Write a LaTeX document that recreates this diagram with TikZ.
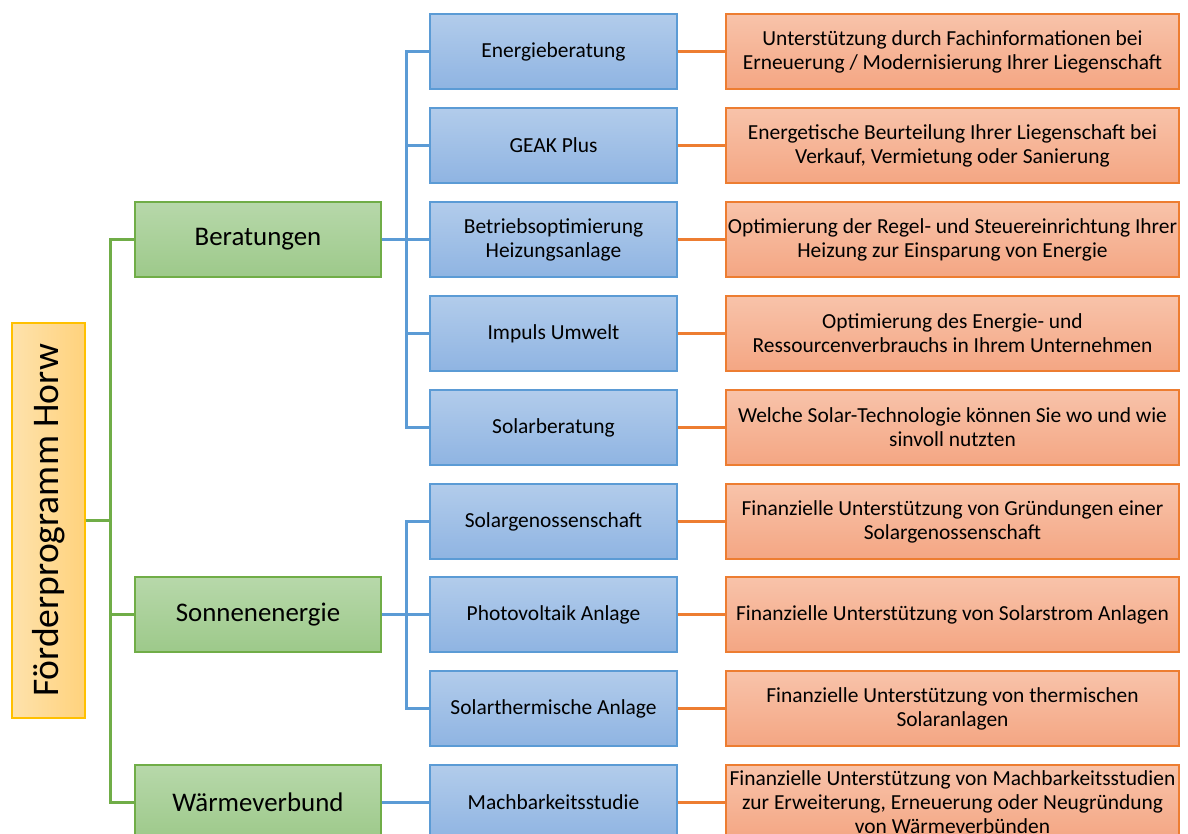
\documentclass[tikz,border=0pt]{standalone}
\usepackage{fontspec}
\setmainfont{Carlito}
\usetikzlibrary{positioning}

\definecolor{grline}{HTML}{70AD47}
\definecolor{grtop}{HTML}{B7D8AA}
\definecolor{grbot}{HTML}{9DC98A}
\definecolor{blline}{HTML}{5B9BD5}
\definecolor{bltop}{HTML}{B2CCEB}
\definecolor{blbot}{HTML}{8FB4E2}
\definecolor{orline}{HTML}{ED7D31}
\definecolor{ortop}{HTML}{F8C3AA}
\definecolor{orbot}{HTML}{F4A683}
\definecolor{yeline}{HTML}{FFC000}
\definecolor{yeleft}{HTML}{FEE2AC}
\definecolor{yeright}{HTML}{FFD27C}

\tikzset{
  rootbox/.style={draw=yeline, line width=0.7pt, left color=yeleft,
    right color=yeright, minimum width=1.46cm, minimum height=7.9cm,
    inner sep=0pt, font=\fontsize{21.4}{24}\selectfont},
  grbox/.style={draw=grline, line width=0.7pt, top color=grtop,
    bottom color=grbot, minimum width=4.92cm, minimum height=1.5cm,
    inner sep=0pt, font=\fontsize{15.3}{18}\selectfont},
  blbox/.style={draw=blline, line width=0.7pt, top color=bltop,
    bottom color=blbot, minimum width=4.94cm, minimum height=1.5cm,
    inner sep=0pt, align=center, font=\fontsize{12.2}{13.6}\selectfont},
  orbox/.style={draw=orline, line width=0.7pt, top color=ortop,
    bottom color=orbot, minimum width=9.06cm, minimum height=1.5cm,
    inner sep=0pt, align=center, font=\fontsize{12.2}{13.6}\selectfont},
  grlink/.style={draw=grline, line width=1.4pt},
  bllink/.style={draw=blline, line width=1.4pt},
  orlink/.style={draw=orline, line width=1.4pt}
}

\begin{document}
\begin{tikzpicture}[x=0.02cm, y=-0.02cm]
  \clip (0,0) rectangle (1188,834);
  \fill[white] (0,0) rectangle (1188,834);

  % root
  \node[rootbox] (root) at (48.5,520.5) {\rotatebox{90}{Förderprogramm Horw}};

  % second level
  \node[grbox] (ber) at (258,239.5) {Beratungen};
  \node[grbox] (son) at (258,614.5) {Sonnenenergie};
  \node[grbox] (wae) at (258,802.5) {Wärmeverbund};

  % third level
  \node[blbox] (b1) at (553.5,51.5)  {Energieberatung};
  \node[blbox] (b2) at (553.5,145.5) {GEAK Plus};
  \node[blbox] (b3) at (553.5,239.5) {Betriebsoptimierung\\Heizungsanlage};
  \node[blbox] (b4) at (553.5,333.5) {Impuls Umwelt};
  \node[blbox] (b5) at (553.5,427.5) {Solarberatung};
  \node[blbox] (b6) at (553.5,521.5) {Solargenossenschaft};
  \node[blbox] (b7) at (553.5,614.5) {Photovoltaik Anlage};
  \node[blbox] (b8) at (553.5,708.5) {Solarthermische Anlage};
  \node[blbox] (b9) at (553.5,802.5) {Machbarkeitsstudie};

  % descriptions
  \node[orbox] (o1) at (952.5,51.5)
    {Unterstützung durch Fachinformationen bei\\Erneuerung / Modernisierung Ihrer Liegenschaft};
  \node[orbox] (o2) at (952.5,145.5)
    {Energetische Beurteilung Ihrer Liegenschaft bei\\Verkauf, Vermietung oder Sanierung};
  \node[orbox] (o3) at (952.5,239.5)
    {Optimierung der Regel- und Steuereinrichtung Ihrer\\Heizung zur Einsparung von Energie};
  \node[orbox] (o4) at (952.5,333.5)
    {Optimierung des Energie- und\\Ressourcenverbrauchs in Ihrem Unternehmen};
  \node[orbox] (o5) at (952.5,427.5)
    {Welche Solar-Technologie können Sie wo und wie\\sinvoll nutzten};
  \node[orbox] (o6) at (952.5,521.5)
    {Finanzielle Unterstützung von Gründungen einer\\Solargenossenschaft};
  \node[orbox] (o7) at (952.5,614.5)
    {Finanzielle Unterstützung von Solarstrom Anlagen};
  \node[orbox] (o8) at (952.5,708.5)
    {Finanzielle Unterstützung von thermischen\\Solaranlagen};
  \node[orbox] (o9) at (952.5,802.5)
    {Finanzielle Unterstützung von Machbarkeitsstudien\\zur Erweiterung,  Erneuerung oder Neugründung\\von Wärmeverbünden};

  % connectors
  \foreach \g in {ber,son,wae}
    \draw[grlink] (root.east) -- ++(25,0) |- (\g.west);
  \foreach \b in {b1,b2,b3,b4,b5}
    \draw[bllink] (ber.east) -- ++(25,0) |- (\b.west);
  \foreach \b in {b6,b7,b8}
    \draw[bllink] (son.east) -- ++(25,0) |- (\b.west);
  \draw[bllink] (wae) -- (b9);
  \foreach \i in {1,...,9}
    \draw[orlink] (b\i) -- (o\i);
\end{tikzpicture}
\end{document}
